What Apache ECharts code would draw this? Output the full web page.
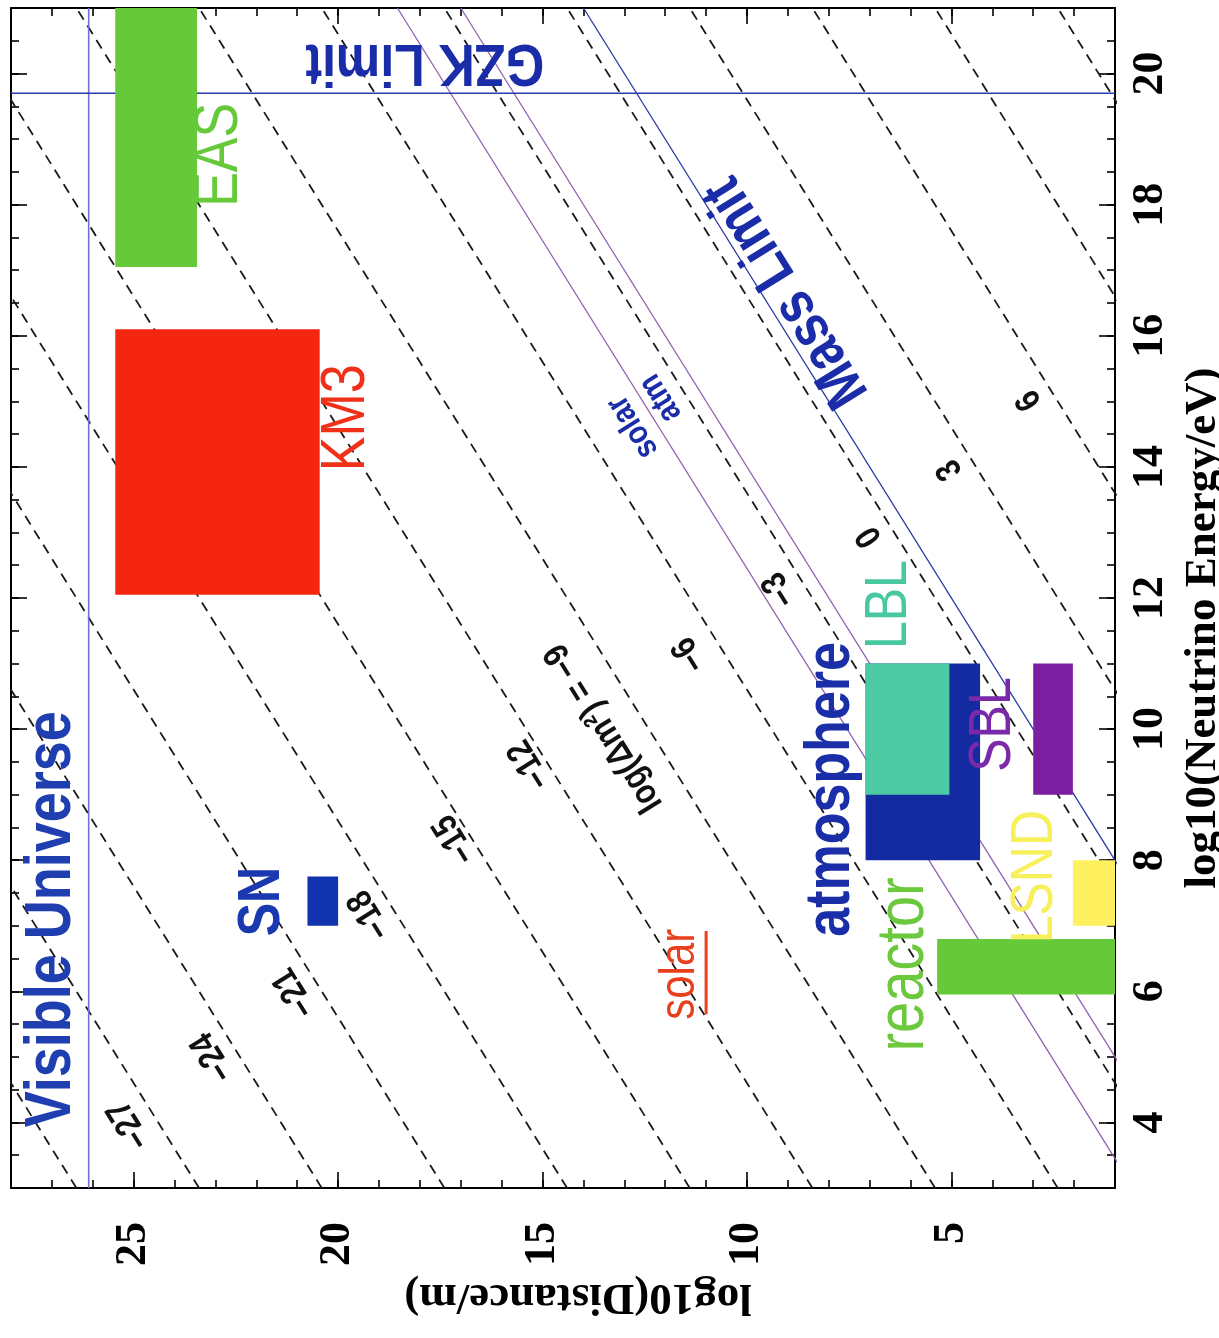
<!DOCTYPE html>
<html><head><meta charset="utf-8">
<script src="https://cdn.jsdelivr.net/npm/echarts@6/dist/echarts.min.js"></script>
<style>html,body{margin:0;padding:0;background:#fff}#chart{width:1219px;height:1338px}</style>
</head><body><div id="chart"></div>
<script>
// ---------------- data ----------------
const distanceRange = [1, 28];
const energyRange = [3, 21];
const distanceTicks = [5, 10, 15, 20, 25];
const distanceMinorTicks = [1,2,3,4,5,6,7,8,9,10,11,12,13,14,15,16,17,18,19,20,21,22,23,24,25,26,27,28];
const energyTicks = [4, 6, 8, 10, 12, 14, 16, 18, 20];
const energyMinorTicks = [3,3.5,4,4.5,5,5.5,6,6.5,7,7.5,8,8.5,9,9.5,10,10.5,11,11.5,12,12.5,13,13.5,14,14.5,15,15.5,16,16.5,17,17.5,18,18.5,19,19.5,20,20.5,21];

// lines of constant log(dm^2): distance at E = 3 and at E = 21
const dm2Values      = [-30, -27, -24, -21, -18, -15, -12, -9, -6, -3, 0, 3, 6, 9, 12];
const dashEnergy     = [3, 21];
const dashStartDist  = [26.4, 23.4, 20.4, 17.4, 14.4, 11.4, 8.4, 5.4, 2.4, -0.6, -3.6, -6.6, -9.6, -12.6, -15.6];
const dashEndDist    = [44.4, 41.4, 38.4, 35.4, 32.4, 29.4, 26.4, 23.4, 20.4, 17.4, 14.4, 11.4, 8.4, 5.4, 2.4];

// solid reference lines (solar, atm, mass limit)
const solidNames     = ['solar', 'atm', 'Mass Limit'];
const solidStartDist = [0.55, -1.0, -4.0];
const solidEndDist   = [18.55, 17.0, 14.0];

// limits
const visibleUniverseDist = 26.1;
const gzkEnergy = 19.7;

// experiment boxes: [distance from, to], [energy from, to]
const boxNames  = ['EAS', 'KM3', 'SN', 'atmosphere', 'LBL', 'SBL', 'LSND', 'reactor'];
const boxDist   = [[23.45, 25.45], [20.45, 25.45], [20.0, 20.75], [4.3, 7.1], [5.05, 7.1], [2.03, 3.0], [1.0, 2.03], [1.0, 5.35]];
const boxEnergy = [[17.05, 21.0], [12.05, 16.1], [7.0, 7.75], [8.0, 11.0], [9.0, 11.0], [9.0, 11.0], [7.0, 8.0], [5.95, 6.8]];

// text annotations
const annTexts  = ['Visible Universe', 'GZK Limit', 'EAS', 'KM3', 'SN', 'solar', 'reactor', 'atmosphere', 'LBL', 'SBL', 'LSND', 'Mass Limit', 'solar', 'atm'];
const annDist   = [27.0, 17.88, 22.9, 19.8, 21.86, 11.64, 6.14, 7.93, 6.51, 3.97, 2.95, 9.03, 12.79, 12.11];
const annEnergy = [7.1, 20.18, 18.76, 14.75, 7.37, 6.26, 6.41, 9.08, 11.9, 10.07, 7.75, 16.67, 14.61, 15.05];
const solarUnderline = [[11.0, 5.65], [11.0, 6.92]];

// dm^2 line labels
const dmLabelTexts  = ['\u221227', '\u221224', '\u221221', '\u221218', '\u221215', '\u221212', 'log(\u0394m\u00b2) = \u22129', '\u22126', '\u22123', '0', '3', '6'];
const dmLabelDist   = [25.1, 23.06, 21.06, 19.22, 17.14, 15.31, 13.5, 11.4, 9.2, 7.0, 5.04, 3.09];
const dmLabelEnergy = [3.97, 5.0, 5.98, 7.17, 8.32, 9.46, 10.02, 11.14, 12.13, 12.94, 13.96, 15.02];

// ---------------- styles ----------------
const boxColors = ['#66c93a', '#f5260f', '#1233b0', '#142aa0', '#4ccaa4', '#7b1fa2', '#fff060', '#66c93a'];
const annStyle = [
  {color: '#1f3fb0', size: 54, weight: 'bold', dir: 'v'},
  {color: '#1a2ca8', size: 50, weight: 'bold', dir: 'flip'},
  {color: '#66c93a', size: 52, weight: 'normal', dir: 'v'},
  {color: '#f03018', size: 52, weight: 'normal', dir: 'v'},
  {color: '#1a38b0', size: 50, weight: 'bold', dir: 'v'},
  {color: '#e8401e', size: 42, weight: 'normal', dir: 'v'},
  {color: '#6cc83c', size: 56, weight: 'normal', dir: 'v'},
  {color: '#1a2ea8', size: 52, weight: 'bold', dir: 'v'},
  {color: '#48c8a0', size: 50, weight: 'normal', dir: 'v'},
  {color: '#7a2aa8', size: 50, weight: 'normal', dir: 'v'},
  {color: '#f7f05a', size: 50, weight: 'normal', dir: 'v'},
  {color: '#1a2ca8', size: 50, weight: 'bold', dir: 'diag'},
  {color: '#1a2ca8', size: 28, weight: 'bold', dir: 'diag'},
  {color: '#1a2ca8', size: 28, weight: 'bold', dir: 'diag'}
];
const SERIF = '"Liberation Serif", "Times New Roman", serif';
const SANS = '"Liberation Sans", Arial, sans-serif';
const GLYPH_STRETCH = 1.2;

function rotationFor(dir, api) {
  if (dir === 'flip') return Math.PI;
  if (dir === 'diag') {
    const a = api.coord([10, 10]), b = api.coord([11, 11]);
    return Math.atan2(a[1] - b[1], b[0] - a[0]);
  }
  return Math.PI / 2;
}

function xAxisDef(pos, major) {
  return {
    type: 'value', min: distanceRange[0], max: distanceRange[1], inverse: true, position: pos,
    axisLine: {show: major, onZero: false, lineStyle: {color: '#000', width: 2}},
    axisTick: {show: true, inside: true, length: major ? 16 : 8, customValues: major ? distanceTicks : distanceMinorTicks, lineStyle: {color: '#000', width: 1.6}},
    axisLabel: {show: false},
    splitLine: {show: false}
  };
}
function yAxisDef(pos, major) {
  return {
    type: 'value', min: energyRange[0], max: energyRange[1], position: pos,
    axisLine: {show: major, onZero: false, lineStyle: {color: '#000', width: 2}},
    axisTick: {show: true, inside: true, length: major ? 16 : 8, customValues: major ? energyTicks : energyMinorTicks, lineStyle: {color: '#000', width: 1.6}},
    axisLabel: {show: false},
    splitLine: {show: false}
  };
}

const xb = xAxisDef('bottom', true);
xb.name = 'log10(Distance/m)';
xb.nameLocation = 'middle';
xb.nameRotate = 180;
xb.nameGap = 68;
xb.nameTextStyle = {fontFamily: SERIF, fontWeight: 'bold', fontSize: 45, color: '#000', padding: [0, 30, 0, 0]};
xb.axisLabel = {show: true, customValues: distanceTicks, rotate: 90, margin: 34, fontFamily: SERIF, fontWeight: 'bold', fontSize: 44, color: '#000'};

const yr = yAxisDef('right', true);
yr.name = 'log10(Neutrino Energy/eV)';
yr.nameLocation = 'middle';
yr.nameRotate = 90;
yr.nameGap = 42;
yr.nameTextStyle = {fontFamily: SERIF, fontWeight: 'bold', fontSize: 45, color: '#000', padding: [0, 60, 0, 0]};
yr.axisLabel = {show: true, customValues: energyTicks, rotate: 90, margin: 14, fontFamily: SERIF, fontWeight: 'bold', fontSize: 44, color: '#000'};

const series = [];
dm2Values.forEach((m, i) => {
  series.push({
    type: 'line', name: 'log dm2 = ' + m, xAxisIndex: 0, yAxisIndex: 0,
    data: [[dashStartDist[i], dashEnergy[0]], [dashEndDist[i], dashEnergy[1]]],
    symbol: 'none', silent: true, z: 2, clip: true,
    lineStyle: {color: '#1a1a1a', width: 1.8, type: [10, 7]}
  });
});
const solidColors = ['#9060b0', '#9060b0', '#2a38a0'];
solidNames.forEach((n, i) => {
  series.push({
    type: 'line', name: n, xAxisIndex: 0, yAxisIndex: 0,
    data: [[solidStartDist[i], dashEnergy[0]], [solidEndDist[i], dashEnergy[1]]],
    symbol: 'none', silent: true, z: 3, clip: true,
    lineStyle: {color: solidColors[i], width: 1.3}
  });
});
series.push({
  type: 'line', name: 'Visible Universe', xAxisIndex: 0, yAxisIndex: 0,
  data: [[visibleUniverseDist, energyRange[0]], [visibleUniverseDist, energyRange[1]]],
  symbol: 'none', silent: true, z: 3, lineStyle: {color: '#7070d8', width: 1.6}
});
series.push({
  type: 'line', name: 'GZK Limit', xAxisIndex: 0, yAxisIndex: 0,
  data: [[distanceRange[0], gzkEnergy], [distanceRange[1], gzkEnergy]],
  symbol: 'none', silent: true, z: 3, lineStyle: {color: '#2a3ab0', width: 1.6}
});
series.push({
  type: 'custom', name: 'experiments', coordinateSystem: 'cartesian2d', xAxisIndex: 0, yAxisIndex: 0,
  z: 4, silent: true, clip: true,
  encode: {x: [0, 1], y: [2, 3]},
  data: boxDist.map((d, i) => [d[0], d[1], boxEnergy[i][0], boxEnergy[i][1]]),
  renderItem: function (params, api) {
    const p1 = api.coord([api.value(0), api.value(2)]);
    const p2 = api.coord([api.value(1), api.value(3)]);
    return {type: 'rect', shape: {x: Math.min(p1[0], p2[0]), y: Math.min(p1[1], p2[1]), width: Math.abs(p1[0] - p2[0]), height: Math.abs(p1[1] - p2[1])}, style: {fill: boxColors[params.dataIndex]}};
  }
});
series.push({
  type: 'line', name: 'solar underline', xAxisIndex: 0, yAxisIndex: 0,
  data: solarUnderline, symbol: 'none', silent: true, z: 5, lineStyle: {color: '#e8401e', width: 3}
});
series.push({
  type: 'custom', name: 'annotations', coordinateSystem: 'cartesian2d', xAxisIndex: 0, yAxisIndex: 0,
  z: 6, silent: true, encode: {x: 0, y: 1},
  data: annTexts.map((t, i) => [annDist[i], annEnergy[i], i]),
  renderItem: function (params, api) {
    const i = params.dataIndex;
    const p = api.coord([api.value(0), api.value(1)]);
    const s = annStyle[i];
    return {type: 'text', x: p[0], y: p[1], rotation: rotationFor(s.dir, api), scaleY: GLYPH_STRETCH,
      style: {text: annTexts[i], fill: s.color, font: s.weight + ' ' + s.size + 'px ' + SANS, align: 'center', verticalAlign: 'middle'}};
  }
});
series.push({
  type: 'custom', name: 'dm2 labels', coordinateSystem: 'cartesian2d', xAxisIndex: 0, yAxisIndex: 0,
  z: 6, silent: true, encode: {x: 0, y: 1},
  data: dmLabelTexts.map((t, i) => [dmLabelDist[i], dmLabelEnergy[i], i]),
  renderItem: function (params, api) {
    const i = params.dataIndex;
    const p = api.coord([api.value(0), api.value(1)]);
    return {type: 'text', x: p[0], y: p[1], rotation: rotationFor('diag', api), scaleY: GLYPH_STRETCH,
      style: {text: dmLabelTexts[i], fill: '#111', font: 'bold 30px ' + SANS, align: 'center', verticalAlign: 'middle'}};
  }
});

const chart = echarts.init(document.getElementById('chart'), null, {renderer: 'canvas'});
chart.setOption({
  backgroundColor: '#ffffff',
  animation: false,
  grid: {left: 11, right: 104, top: 8, bottom: 150, containLabel: false, outerBoundsMode: 'none'},
  xAxis: [xb, xAxisDef('bottom', false), xAxisDef('top', true), xAxisDef('top', false)],
  yAxis: [yr, yAxisDef('right', false), yAxisDef('left', true), yAxisDef('left', false)],
  series: series
});
</script></body></html>
